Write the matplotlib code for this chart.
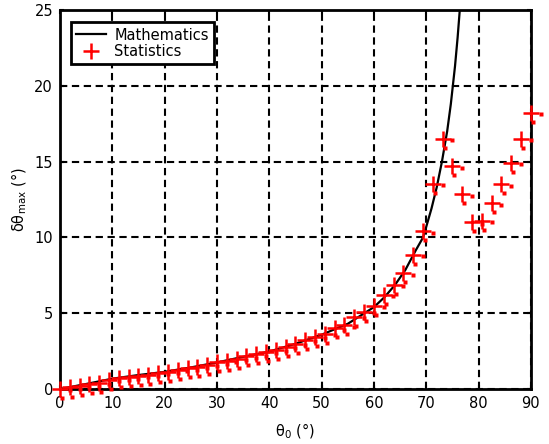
import matplotlib
matplotlib.use("Agg")
import matplotlib.pyplot as plt
import matplotlib.transforms as mtransforms

# Mathematics curve
math_x = [0, 5, 10, 15, 20, 25, 30, 35, 40, 45, 50, 55, 60, 62, 64, 66, 68, 69.4,
          70, 71, 72, 73, 74, 74.7, 75.5, 76.0, 76.5, 76.8]
math_y = [0, 0.33, 0.68, 0.92, 1.13, 1.42, 1.75, 2.12, 2.47, 2.98, 3.58, 4.3, 5.4,
          6.05, 6.85, 7.85, 9.15, 10.0, 10.7, 11.9, 13.3, 15.0, 17.0, 18.8, 21.3,
          23.2, 25.4, 26.8]

# Statistics points
stat_x = [0, 1.875, 3.75, 5.625, 7.5, 9.375, 11.25, 13.125, 15, 16.875, 18.75,
          20.625, 22.5, 24.375, 26.25, 28.125, 30, 31.875, 33.75, 35.625, 37.5,
          39.375, 41.25, 43.125, 45, 46.875, 48.75, 50.625, 52.5, 54.375, 56.25,
          58.125, 60, 61.875, 63.75, 65.625, 67.5, 69.375, 71.25, 73.125, 75,
          76.875, 78.75, 80.625, 82.5, 84.375, 86.25, 88.125, 90]
stat_y = [0.0, 0.1, 0.22, 0.3, 0.42, 0.6, 0.7, 0.78, 0.88, 0.95, 1.05,
          1.13, 1.25, 1.36, 1.47, 1.6, 1.75, 1.87, 2.0, 2.15, 2.3,
          2.45, 2.6, 2.8, 3.0, 3.23, 3.45, 3.65, 4.0, 4.2, 4.75,
          5.1, 5.5, 6.2, 6.86, 7.63, 8.85, 10.4, 13.55, 16.5, 14.7,
          12.85, 11.0, 11.1, 12.25, 13.5, 14.9, 16.5, 18.2]

x_ticks = [0, 10, 20, 30, 40, 50, 60, 70, 80, 90]
y_ticks = [0, 5, 10, 15, 20, 25]

plt.rcParams['font.family'] = ['DejaVu Sans']
fig = plt.figure(figsize=(5.49, 4.44), dpi=100)
ax = fig.add_axes([0.1093, 0.1239, 0.8577, 0.8536])

ax.plot(math_x, math_y, color='black', lw=1.6, label='Mathematics', zorder=3)

# small shadow dots (rendering artefacts in the reference)
for dx, dy in [(7, -1), (1.5, -6.5)]:
    tr = mtransforms.offset_copy(ax.transData, fig=fig, x=dx, y=dy, units='points')
    ax.plot(stat_x, stat_y, ls='none', marker='s', ms=2.2, color='red',
            mec='none', transform=tr, zorder=4, clip_on=False)

ax.plot(stat_x, stat_y, ls='none', marker='+', ms=11, mew=1.8, color='red',
        label='Statistics', zorder=5, clip_on=False)

ax.set_xlim(0, 90)
ax.set_ylim(0, 25)
ax.set_xticks(x_ticks)
ax.set_yticks(y_ticks)
ax.tick_params(direction='in', length=3, width=1.5, top=True, right=True,
               labelsize=10.5, pad=5)
ax.grid(True, color='black', lw=1.5, ls=(0, (3.5, 2.2)))
for s in ax.spines.values():
    s.set_linewidth(2)

ax.set_xlabel(r'$\mathregular{\theta_0}$ (°)', fontsize=10.5, labelpad=8)
ax.set_ylabel(r'$\mathregular{\delta\theta_{max}}$ (°)', fontsize=10.5, labelpad=4)

leg = ax.legend(loc='upper left', bbox_to_anchor=(0.024, 0.967), fancybox=False,
                framealpha=1, edgecolor='black', fontsize=10.5, handlelength=2.0,
                borderpad=0.35, labelspacing=0.1, handletextpad=0.6, borderaxespad=0)
leg.get_frame().set_linewidth(2)

fig.savefig('out.png', dpi=100)
